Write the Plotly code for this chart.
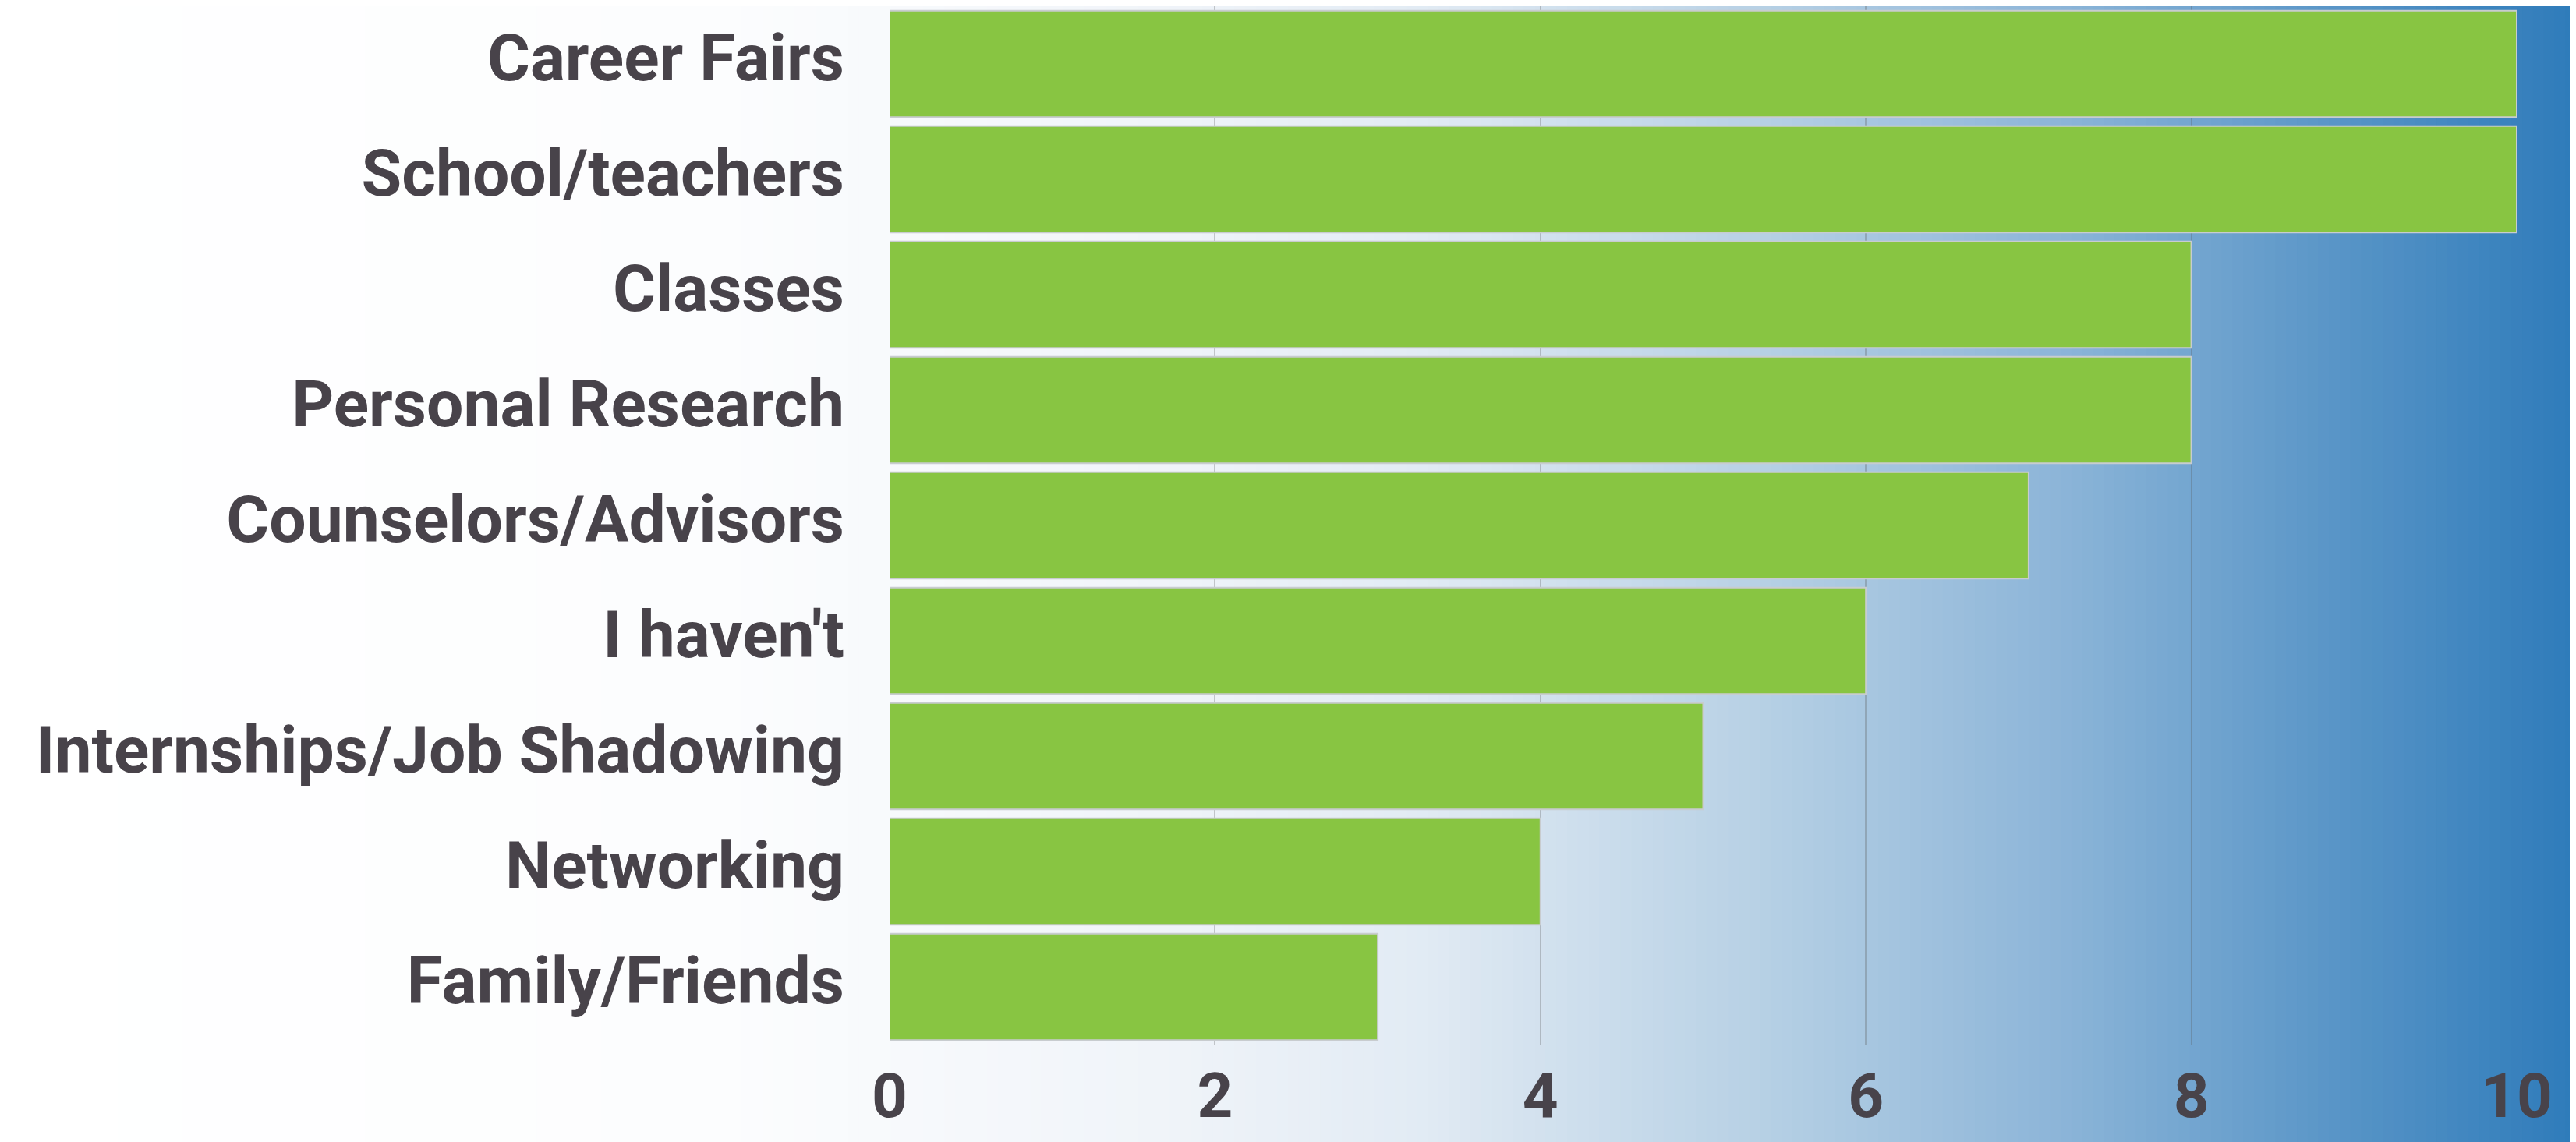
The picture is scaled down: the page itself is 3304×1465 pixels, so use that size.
import plotly.graph_objects as go

categories = ["Career Fairs", "School/teachers", "Classes", "Personal Research",
              "Counselors/Advisors", "I haven't", "Internships/Job Shadowing",
              "Networking", "Family/Friends"]
values = [10, 10, 8, 8, 7, 6, 5, 4, 3]
x_ticks = [0, 2, 4, 6, 8, 10]

W, H = 3304, 1465
# the page body adds an 8px offset; margins compensate for it
ML, MR, MT, MB = 1133, 84, 0, 133
PW = W - ML - MR
PH = H - MT - MB

TEXT = "#48434A"
BAR = "#88C542"

fig = go.Figure(go.Bar(
    x=values, y=categories, orientation="h",
    marker=dict(color=BAR, line=dict(color="#C8CCCF", width=2)),
    hoverinfo="skip",
))

# background gradient (white -> blue) across the whole figure
stops = [(0.0, (255, 255, 255)), (0.28, (252, 253, 254)), (0.45, (240, 244, 249)),
         (0.55, (226, 235, 244)), (0.68, (184, 209, 229)), (0.80, (140, 181, 216)),
         (0.90, (92, 151, 200)), (1.0, (46, 123, 186))]

def col(t):
    for (t0, c0), (t1, c1) in zip(stops[:-1], stops[1:]):
        if t0 <= t <= t1:
            f = (t - t0) / (t1 - t0) if t1 > t0 else 0
            return "rgb(%d,%d,%d)" % tuple(round(a + (b - a) * f) for a, b in zip(c0, c1))
    return "rgb(46,123,186)"

N = 240
shapes = []
for i in range(N):
    px0 = W * i / N - 8
    px1 = W * (i + 1) / N - 8 + 1
    shapes.append(dict(
        type="rect", xref="paper", yref="paper", layer="below",
        x0=(px0 - ML) / PW, x1=(px1 - ML) / PW, y0=-1, y1=2,
        fillcolor=col((i + 0.5) / N), line=dict(width=0),
    ))

fig.update_layout(
    width=W, height=H,
    margin=dict(l=ML, r=MR, t=MT, b=MB, autoexpand=False),
    paper_bgcolor="white", plot_bgcolor="rgba(0,0,0,0)",
    shapes=shapes, bargap=0.077, showlegend=False,
    font=dict(family="Roboto", color=TEXT),
    xaxis=dict(range=[0, 10], tickvals=x_ticks, showgrid=True,
               gridcolor="rgba(90,90,90,0.3)", gridwidth=2, zeroline=False,
               showline=False, ticks="", ticklabelstandoff=12,
               tickfont=dict(size=80, family="Roboto", weight="bold", color=TEXT)),
    yaxis=dict(categoryorder="array", categoryarray=categories[::-1],
               showgrid=False, zeroline=False, showline=False, ticks="",
               ticklabelstandoff=57, ticklabelshift=-8,
               tickfont=dict(size=84, family="Roboto", weight="bold", color=TEXT)),
)

fig.write_html("out.html")
